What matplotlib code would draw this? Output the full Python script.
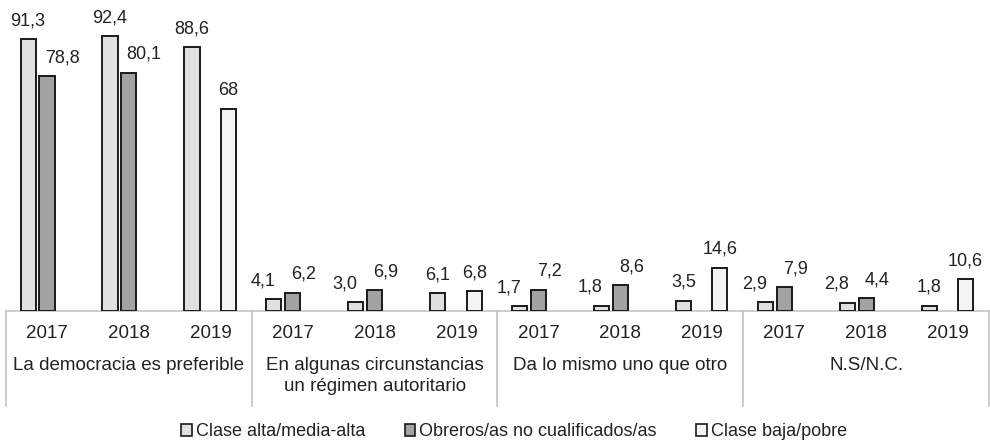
import matplotlib
matplotlib.use("Agg")
import matplotlib.pyplot as plt
import matplotlib.transforms as mtransforms
from matplotlib.patches import Patch
import numpy as np

plt.rcParams['font.family'] = ['Liberation Sans', 'DejaVu Sans']

# Datos
grupos = ["La democracia es preferible",
          "En algunas circunstancias\nun régimen autoritario",
          "Da lo mismo uno que otro",
          "N.S/N.C."]
anios = ["2017", "2018", "2019"]
series = ["Clase alta/media-alta", "Obreros/as no cualificados/as", "Clase baja/pobre"]

alta = [91.3, 92.4, 88.6, 4.1, 3.0, 6.1, 1.7, 1.8, 3.5, 2.9, 2.8, 1.8]
obreros = [78.8, 80.1, np.nan, 6.2, 6.9, np.nan, 7.2, 8.6, np.nan, 7.9, 4.4, np.nan]
baja = [np.nan, np.nan, 68, np.nan, np.nan, 6.8, np.nan, np.nan, 14.6, np.nan, np.nan, 10.6]

colores = ["#e0e0e0", "#a3a3a3", "#f4f4f4"]
texto = "#222222"

fig = plt.figure(figsize=(9.9, 4.46), dpi=100)
ax = fig.add_axes([6 / 990, 1 - 311 / 446, 983 / 990, 297.6 / 446])

x = np.arange(len(alta))
ancho = 0.185
desp = [-0.23, 0.0, 0.215]
valores = [alta, obreros, baja]

for s, vals in enumerate(valores):
    vals = np.array(vals, dtype=float)
    ax.bar(x + desp[s], vals, width=ancho, color=colores[s],
           edgecolor="#1a1a1a", linewidth=1.4, zorder=3)
    for i, v in enumerate(vals):
        if np.isnan(v):
            continue
        # pequeños desplazamientos para que no se pisen las etiquetas
        dx = 0
        if s == 1:
            dx = 8 if v < 20 else 11
        elif s == 0 and not np.isnan(obreros[i]) and v < 20:
            dx = -8
        if v == int(v) and s == 2:
            etiqueta = "%d" % v
        else:
            etiqueta = ("%.1f" % v).replace(".", ",")
        ax.annotate(etiqueta, (x[i] + desp[s], v), xytext=(dx, 7),
                    textcoords="offset points", ha="center", va="bottom",
                    fontsize=13, color=texto, annotation_clip=False)

ax.set_xlim(-0.5, len(alta) - 0.5)
ax.set_ylim(0, 100)
for sp in ax.spines.values():
    sp.set_visible(False)
ax.set_xticks([])
ax.set_yticks([])

trans = mtransforms.blended_transform_factory(ax.transData, ax.transAxes)
ax.plot([-0.5, len(alta) - 0.5], [0, 0], color="#c4c4c4", lw=1.2,
        transform=trans, clip_on=False, zorder=2)
for b in np.arange(-0.5, len(alta), 3):
    ax.plot([b, b], [0, -0.32], color="#c4c4c4", lw=1.2,
            transform=trans, clip_on=False)

for i in x:
    ax.text(i, -0.074, anios[i % 3], transform=trans, ha="center", va="center",
            fontsize=13.5, color=texto)
for g, nombre in enumerate(grupos):
    ax.text(g * 3 + 1, -0.155, nombre, transform=trans, ha="center", va="top",
            fontsize=13.5, color=texto, linespacing=1.3)

handles = [Patch(facecolor=colores[s], edgecolor="#1a1a1a", linewidth=1.2)
           for s in range(3)]
fig.legend(handles, series, loc="center", bbox_to_anchor=(514 / 990, 1 - 432 / 446),
           ncol=3, frameon=False, fontsize=13, handlelength=0.6,
           handleheight=0.6, handletextpad=0.2, columnspacing=2.2,
           labelcolor=texto)

fig.savefig("out.png", dpi=100)
